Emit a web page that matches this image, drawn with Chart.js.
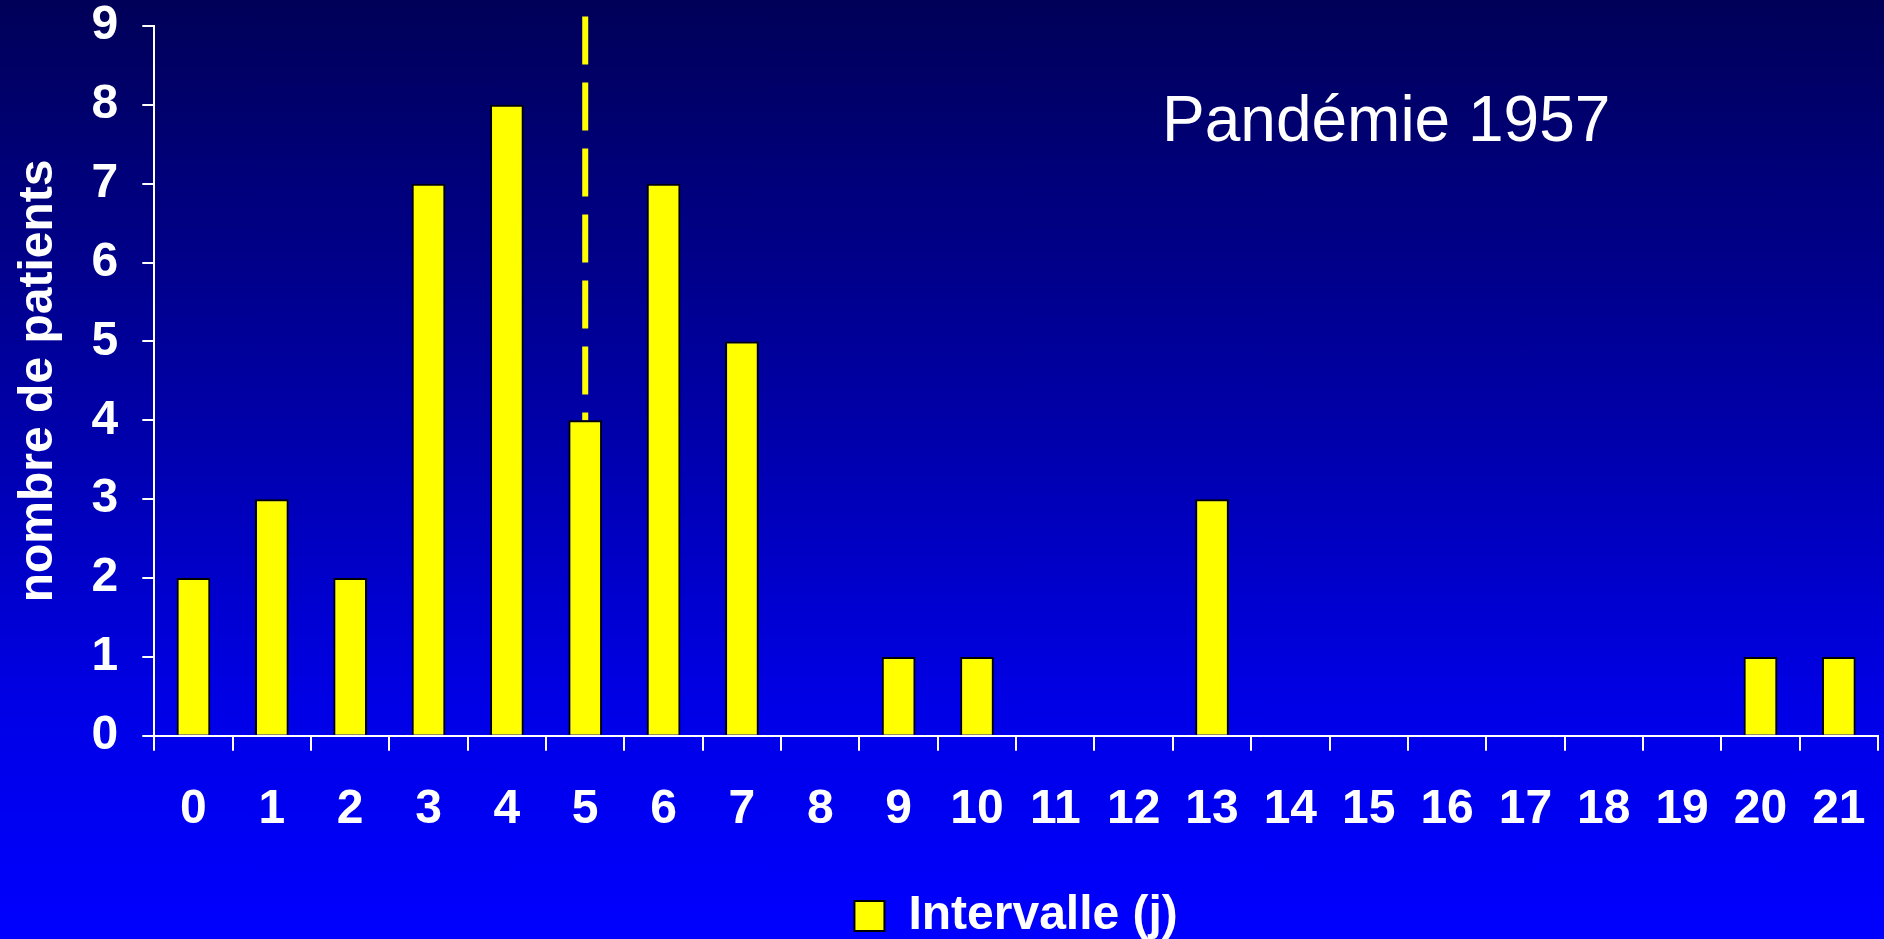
<!DOCTYPE html>
<html lang="fr">
<head>
    <meta charset="UTF-8">
    <script src="https://cdn.jsdelivr.net/npm/chart.js"></script>
    <title>Pandémie 1957</title>
    <style>
        html, body { margin: 0; padding: 0; }
        body {
            width: 1884px; height: 939px; overflow: hidden;
            background: linear-gradient(to bottom, #000058 0%, #0000a8 45%, #0000e6 75%, #0000ff 100%);
        }
    </style>
</head>
<body>
    <div style="width: 1884px; height: 939px;">
        <canvas id="myChart" width="1884" height="939"></canvas>
    </div>

    <script>
        // données
        const jours = ['0','1','2','3','4','5','6','7','8','9','10','11','12','13','14','15','16','17','18','19','20','21'];
        const patients = [2, 3, 2, 7, 8, 4, 7, 5, 0, 1, 1, 0, 0, 3, 0, 0, 0, 0, 0, 0, 1, 1];
        const medianeJour = '5';
        const medianeHaut = [9.12, 4];   // trait pointillé: du haut jusqu'à la barre
        const yTicks = [0, 1, 2, 3, 4, 5, 6, 7, 8, 9];

        const police = '"Liberation Sans", Arial, sans-serif';

        const titrePlugin = {
            id: 'titrePandemie',
            afterDraw(chart) {
                const ctx = chart.ctx;
                ctx.save();
                ctx.fillStyle = '#ffffff';
                ctx.font = '64px ' + police;
                ctx.textBaseline = 'alphabetic';
                ctx.fillText('Pandémie 1957', 1162, 141);
                ctx.restore();
            }
        };

        const ctx = document.getElementById('myChart').getContext('2d');
        const myChart = new Chart(ctx, {
            type: 'bar',
            data: {
                labels: jours,
                datasets: [{
                    label: 'Intervalle (j)',
                    data: patients,
                    backgroundColor: '#ffff00',
                    borderColor: '#000000',
                    borderWidth: 2,
                    barPercentage: 0.43,
                    categoryPercentage: 1
                }, {
                    type: 'line',
                    label: 'mediane',
                    data: medianeHaut.map(v => ({ x: medianeJour, y: v })),
                    borderColor: '#ffff00',
                    borderWidth: 6,
                    borderDash: [48, 18],
                    borderCapStyle: 'butt',
                    pointRadius: 0,
                    fill: false,
                    clip: false
                }]
            },
            options: {
                responsive: false,
                animation: false,
                layout: {
                    padding: { top: 0, right: 6, bottom: -11, left: 10 }
                },
                scales: {
                    x: {
                        afterFit(scale) {
                            scale.paddingRight = 0;
                        },
                        grid: {
                            display: true,
                            drawOnChartArea: false,
                            color: '#ffffff',
                            lineWidth: 2,
                            tickLength: 15,
                            offset: true
                        },
                        border: { color: '#ffffff', width: 2 },
                        ticks: {
                            color: '#ffffff',
                            padding: 30,
                            maxRotation: 0,
                            autoSkip: false,
                            font: { family: police, size: 48, weight: 'bold' }
                        },
                        title: {
                            display: true,
                            text: ' ',
                            padding: { top: 2, bottom: 0 },
                            font: { family: police, size: 18 }
                        }
                    },
                    y: {
                        min: 0,
                        max: 9,
                        afterBuildTicks(scale) {
                            scale.ticks = yTicks.map(v => ({ value: v }));
                        },
                        // le haut de l'axe ne doit pas dépendre du padding des étiquettes
                        afterFit(scale) {
                            scale.paddingTop = 26;
                        },
                        grid: {
                            display: true,
                            drawOnChartArea: false,
                            color: '#ffffff',
                            lineWidth: 2,
                            tickLength: 12
                        },
                        border: { color: '#ffffff', width: 2 },
                        ticks: {
                            color: '#ffffff',
                            padding: 24,
                            font: { family: police, size: 48, weight: 'bold' }
                        },
                        title: {
                            display: true,
                            text: 'nombre de patients',
                            color: '#ffffff',
                            padding: { top: 0, bottom: 0 },
                            font: { family: police, size: 48, weight: 'bold' }
                        }
                    }
                },
                plugins: {
                    legend: {
                        display: true,
                        position: 'bottom',
                        fullSize: false,
                        labels: {
                            color: '#ffffff',
                            boxWidth: 30,
                            boxHeight: 30,
                            padding: 0,
                            font: { family: police, size: 48, weight: 'bold' },
                            filter: item => item.datasetIndex === 0
                        }
                    },
                    tooltip: { enabled: false }
                }
            },
            plugins: [titrePlugin]
        });
    </script>
</body>
</html>
